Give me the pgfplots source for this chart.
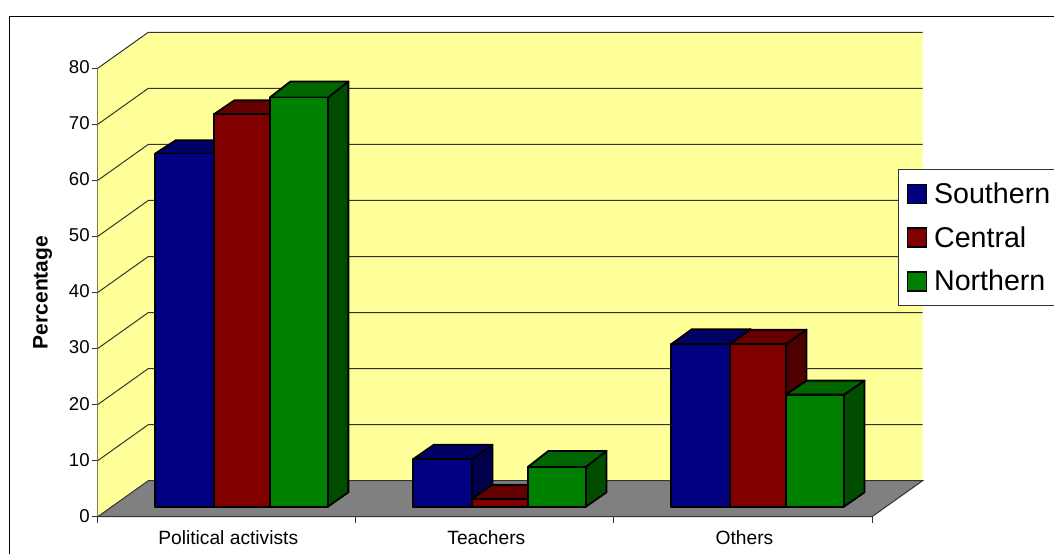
\documentclass[border=0pt]{standalone}
\usepackage{fontspec}
\setmainfont{Liberation Sans}
\usepackage{pgfplots}
\pgfplotsset{compat=1.18}
\definecolor{wall}{HTML}{FFFF99}
\definecolor{floorc}{HTML}{808080}
\definecolor{gridc}{HTML}{333333}
\definecolor{sF}{HTML}{000080}\definecolor{sT}{HTML}{000066}\definecolor{sS}{HTML}{00004D}
\definecolor{cF}{HTML}{800000}\definecolor{cT}{HTML}{660000}\definecolor{cS}{HTML}{4D0000}
\definecolor{nF}{HTML}{008000}\definecolor{nT}{HTML}{006600}\definecolor{nS}{HTML}{004D00}
% pixel to data units
\def\xpx{0.0038744}
\def\ypx{0.17841}
% \tdbar{category}{left px}{right px}{value}{prefix}{depth px of the top}
\newcommand{\tdbar}[6]{%
  \pgfmathsetmacro{\xa}{#1+(#2)*\xpx}%
  \pgfmathsetmacro{\xb}{#1+(#3)*\xpx}%
  \pgfmathsetmacro{\xc}{\xa+20.6*\xpx}%
  \pgfmathsetmacro{\xd}{\xb+20.6*\xpx}%
  \pgfmathsetmacro{\ya}{10*\ypx}%
  \pgfmathsetmacro{\yb}{\ya+#4}%
  \pgfmathsetmacro{\yc}{\ya+14.4*\ypx}%
  \pgfmathsetmacro{\yd}{\yb+#6*\ypx}%
  \addplot[draw=black,line width=1.8pt,line join=round,fill=#5S,forget plot] coordinates {(\xb,\ya)(\xd,\yc)(\xd,\yd)(\xb,\yb)} --cycle;
  \addplot[draw=black,line width=1.8pt,line join=round,fill=#5T,forget plot] coordinates {(\xa,\yb)(\xb,\yb)(\xd,\yd)(\xc,\yd)} --cycle;
  \addplot[draw=black,line width=1.8pt,line join=round,fill=#5F,forget plot] coordinates {(\xa,\ya)(\xb,\ya)(\xb,\yb)(\xa,\yb)} --cycle;
}
\begin{document}
\begin{tikzpicture}[x=1pt,y=1pt]
\useasboundingbox (0,0) rectangle (1054,554);
\fill[white] (0,0) rectangle (1054,554);
\draw[line width=1.2pt,black] (9.5,0) -- (9.5,537.5) -- (1054,537.5);
\begin{axis}[
  at={(97.7pt,37.3pt)},anchor=south west,
  scale only axis,width=774.3pt,height=448.4pt,
  xmin=-0.5,xmax=2.5,ymin=0,ymax=80,
  clip=false,
  axis x line*=bottom,axis y line*=left,
  axis line style={line width=1pt,-,gridc},
  tick style={line width=1pt,gridc},
  major tick length=6pt,
  tick align=outside,
  xtick={-0.5,0.5,1.5,2.5},
  x tick label as interval,
  xticklabels={Political activists,Teachers,Others},
  ytick={0,10,...,80},
  every x tick label/.append style={font=\fontsize{19.2}{21}\selectfont,yshift=-4.5pt,xshift=1.5pt},
  every y tick label/.append style={font=\fontsize{18.6}{20}\selectfont,xshift=1.5pt,yshift=1pt},
  /pgf/number format/assume math mode=true,
  ylabel={\textbf{Percentage}},
  every axis y label/.style={at={(axis description cs:-0.0712,0.5)},rotate=90,anchor=center,font=\fontsize{21}{23}\selectfont},
  legend style={at={(axis description cs:1.0332,0.776)},anchor=north west,
    draw=gridc,line width=1pt,fill=white,
    font=\fontsize{28.6}{30}\selectfont,
    inner xsep=8.5pt,inner ysep=12.5pt,row sep=19.5pt,
    legend cell align=left,
    nodes={inner sep=1pt},
    /tikz/every odd column/.append style={column sep=6pt}},
  legend image code/.code={\draw[#1,draw=black,line width=1.4pt] (0pt,-9.5pt) rectangle (19pt,9.5pt);},
]
\addplot[fill=wall,draw=none,forget plot] coordinates {(-0.5,0)(-0.304,6.42)(2.696,6.42)(2.696,86.42)(-0.304,86.42)(-0.5,80)} --cycle;
\addplot[fill=floorc,draw=gridc,line width=1pt,forget plot] coordinates {(-0.5,0)(2.5,0)(2.696,6.42)(-0.304,6.42)} --cycle;
\addplot[gridc,line width=1pt,forget plot] coordinates {(-0.5,10)(-0.304,16.42)(2.696,16.42)};
\addplot[gridc,line width=1pt,forget plot] coordinates {(-0.5,20)(-0.304,26.42)(2.696,26.42)};
\addplot[gridc,line width=1pt,forget plot] coordinates {(-0.5,30)(-0.304,36.42)(2.696,36.42)};
\addplot[gridc,line width=1pt,forget plot] coordinates {(-0.5,40)(-0.304,46.42)(2.696,46.42)};
\addplot[gridc,line width=1pt,forget plot] coordinates {(-0.5,50)(-0.304,56.42)(2.696,56.42)};
\addplot[gridc,line width=1pt,forget plot] coordinates {(-0.5,60)(-0.304,66.42)(2.696,66.42)};
\addplot[gridc,line width=1pt,forget plot] coordinates {(-0.5,70)(-0.304,76.42)(2.696,76.42)};
\addplot[gridc,line width=1pt,forget plot] coordinates {(-0.5,80)(-0.304,86.42)(2.696,86.42)};
% Political activists
\tdbar{0}{-71.6}{-13}{63}{s}{13.3}
\tdbar{0}{-13}{43}{70}{c}{14}
\tdbar{0}{43}{101}{73}{n}{16}
% Teachers
\tdbar{1}{-71.6}{-13}{8.5}{s}{14.3}
\tdbar{1}{-13}{43}{1.4}{c}{14}
\tdbar{1}{43}{101}{7.1}{n}{16}
% Others
\tdbar{2}{-71.6}{-13}{29}{s}{15}
\tdbar{2}{-13}{43}{29}{c}{14.5}
\tdbar{2}{43}{101}{20}{n}{14}
\addlegendimage{fill=sF}\addlegendentry{Southern\hspace{12pt}}
\addlegendimage{fill=cF}\addlegendentry{Central}
\addlegendimage{fill=nF}\addlegendentry{Northern}
\end{axis}
\end{tikzpicture}
\end{document}
